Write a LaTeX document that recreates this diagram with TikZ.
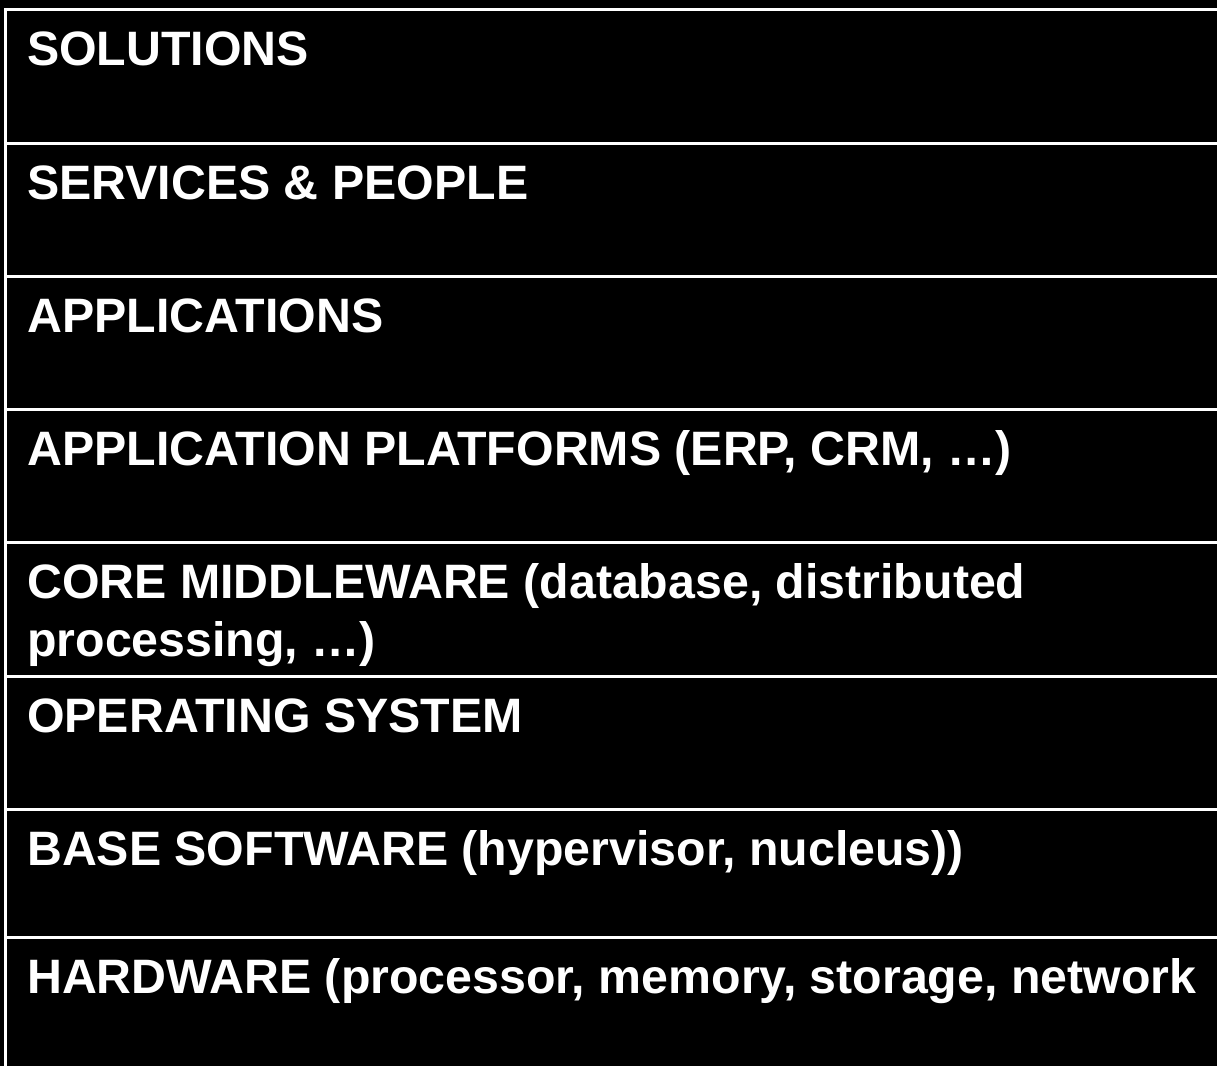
\documentclass[tikz,border=0pt]{standalone}
\usepackage{fontspec}
\setmainfont{Liberation Sans}
\begin{document}
\begin{tikzpicture}[x=1pt,y=-1pt,
  sep/.style={draw=white,line width=3pt},
  lbl/.style={text=white,font=\fontsize{48.3}{58}\selectfont\bfseries,anchor=base west,inner sep=0pt,align=left}]
\useasboundingbox (0,0) rectangle (1217,1066);
\fill[black] (0,0) rectangle (1217,1066);
% frame
\draw[sep] (5.5,1066) -- (5.5,9) -- (1217,9);
\foreach \y in {143,276,409,542,676,809,937}
  \draw[sep] (7,\y) -- (1217,\y);
% labels
\node[lbl] (l1) at (27,65) {SOLUTIONS};
\node[lbl] (l2) at (27,199) {SERVICES \& PEOPLE};
\node[lbl] (l3) at (27,332) {APPLICATIONS};
\node[lbl] (l4) at (27,465) {APPLICATION PLATFORMS (ERP, CRM, …)};
\node[lbl] (l5a) at (27,598) {CORE MIDDLEWARE (database, distributed};
\node[lbl] (l5b) at (27,656) {processing, …)};
\node[lbl] (l6) at (27,732) {OPERATING SYSTEM};
\node[lbl] (l7) at (27,865) {BASE SOFTWARE (hypervisor, nucleus))};
\node[lbl] (l8) at (27,993) {HARDWARE (processor, memory, storage, network};
\end{tikzpicture}
\end{document}
